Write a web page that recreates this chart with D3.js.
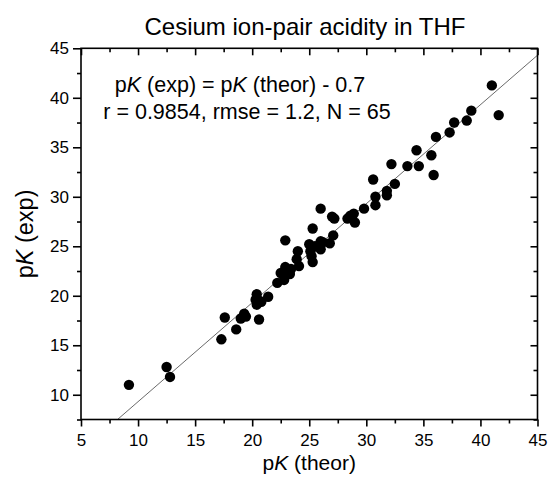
<!DOCTYPE html>
<html>
<head>
<meta charset="utf-8">
<script src="https://cdn.jsdelivr.net/npm/d3@7"></script>
<style>
  body { margin: 0; background: #fff; }
  text { font-family: Arial, "Liberation Sans", sans-serif; fill: #000; }
</style>
</head>
<body>
<svg id="chart" width="549" height="480"></svg>
<script>
// data
const pkTheor = [9.2, 12.5, 12.8, 17.3, 17.6, 18.6, 19.0, 19.3, 19.45, 20.3, 20.4, 20.4, 20.6, 20.8, 21.4,
    22.2, 22.5, 22.8, 22.9, 22.9, 23.3, 23.4, 23.9, 24.0, 24.1, 25.0, 25.1, 25.2, 25.3, 25.3,
    26.0, 26.0, 26.0, 26.8, 27.0, 27.2, 27.1, 28.35, 28.6, 28.9, 29.0, 29.8, 30.6, 30.8, 30.8,
    31.8, 31.8, 32.2, 32.5, 33.6, 34.4, 34.6, 35.7, 35.9, 36.1, 37.3, 37.7, 38.8, 39.2, 41.0, 41.6,
    25.5, 26.2, 23.1, 20.6]
const pkExp = [11.0, 12.8, 11.8, 15.6, 17.8, 16.6, 17.7, 18.2, 17.9, 19.6, 20.15, 19.1, 17.6, 19.4, 19.9,
    21.3, 22.3, 21.6, 25.6, 22.9, 22.2, 22.7, 23.7, 24.5, 23.0, 25.2, 24.5, 24.0, 26.8, 23.4,
    25.5, 24.7, 28.8, 25.3, 28.0, 27.8, 26.1, 27.8, 28.1, 28.3, 27.4, 28.8, 31.75, 30.0, 29.15,
    30.6, 30.15, 33.3, 31.3, 33.1, 34.7, 33.1, 34.2, 32.2, 36.05, 36.5, 37.5, 37.7, 38.7, 41.25, 38.25,
    25.0, 25.4, 22.5, 19.5]
const xTicks = [5, 10, 15, 20, 25, 30, 35, 40, 45]
const yTicks = [10, 15, 20, 25, 30, 35, 40, 45]
const xMinor = [7.5, 12.5, 17.5, 22.5, 27.5, 32.5, 37.5, 42.5]
const yMinor = [7.5, 12.5, 17.5, 22.5, 27.5, 32.5, 37.5, 42.5]
const fitOffset = -0.7

const svg = d3.select("#chart")
const plotLeft = 81, plotRight = 537.5, plotTop = 48.3, plotBottom = 419.5

const x = d3.scaleLinear().domain([5, 45]).range([plotLeft, plotRight])
const y = d3.scaleLinear().domain([7.5, 45]).range([plotBottom, plotTop])

svg.append("defs").append("clipPath").attr("id", "plot-clip")
    .append("rect")
    .attr("x", plotLeft).attr("y", plotTop)
    .attr("width", plotRight - plotLeft).attr("height", plotBottom - plotTop)

// fit line pK(exp) = pK(theor) - 0.7
const fitLine = d3.line().x(d => x(d[0])).y(d => y(d[1]))
svg.append("path")
    .attr("clip-path", "url(#plot-clip)")
    .attr("d", fitLine([[5, 5 + fitOffset], [45, 45 + fitOffset]]))
    .attr("fill", "none")
    .attr("stroke", "#444")
    .attr("stroke-width", 0.8)

// points
svg.append("g")
    .selectAll("circle")
    .data(pkTheor)
    .enter().append("circle")
    .attr("cx", d => x(d))
    .attr("cy", (d, i) => y(pkExp[i]))
    .attr("r", 5.2)
    .attr("fill", "#000")

// axes: bottom/left outward, top/right inward
function styleAxis(g) {
    g.select(".domain").remove()
    g.selectAll("line").attr("stroke", "#000").attr("stroke-width", 1.6)
    g.selectAll("text").attr("font-size", "17px")
}

svg.append("g").attr("transform", `translate(0,${plotBottom})`)
    .call(d3.axisBottom(x).tickValues(xTicks).tickSize(7).tickPadding(7.5))
    .call(styleAxis)
svg.append("g").attr("transform", `translate(0,${plotBottom})`)
    .call(d3.axisBottom(x).tickValues(xMinor).tickSize(4).tickFormat(""))
    .call(styleAxis)

svg.append("g").attr("transform", `translate(${plotLeft},0)`)
    .call(d3.axisLeft(y).tickValues(yTicks).tickSize(8).tickPadding(4))
    .call(styleAxis)
svg.append("g").attr("transform", `translate(${plotLeft},0)`)
    .call(d3.axisLeft(y).tickValues(yMinor).tickSize(4).tickFormat(""))
    .call(styleAxis)

svg.append("g").attr("transform", `translate(0,${plotTop})`)
    .call(d3.axisTop(x).tickValues(xTicks).tickSize(-7).tickFormat(""))
    .call(styleAxis)
svg.append("g").attr("transform", `translate(0,${plotTop})`)
    .call(d3.axisTop(x).tickValues(xMinor).tickSize(-4).tickFormat(""))
    .call(styleAxis)

svg.append("g").attr("transform", `translate(${plotRight},0)`)
    .call(d3.axisRight(y).tickValues(yTicks).tickSize(-7).tickFormat(""))
    .call(styleAxis)
svg.append("g").attr("transform", `translate(${plotRight},0)`)
    .call(d3.axisRight(y).tickValues(yMinor).tickSize(-4).tickFormat(""))
    .call(styleAxis)

// frame
svg.append("rect")
    .attr("x", plotLeft).attr("y", plotTop)
    .attr("width", plotRight - plotLeft).attr("height", plotBottom - plotTop)
    .attr("fill", "none")
    .attr("stroke", "#000")
    .attr("stroke-width", 1.6)

// title and axis labels
svg.append("text")
    .attr("x", 305).attr("y", 35)
    .attr("text-anchor", "middle")
    .attr("font-size", "24px")
    .text("Cesium ion-pair acidity in THF")

const xLabel = svg.append("text")
    .attr("x", (plotLeft + plotRight) / 2).attr("y", 470)
    .attr("text-anchor", "middle")
    .attr("font-size", "21px")
xLabel.append("tspan").text("p")
xLabel.append("tspan").attr("font-style", "italic").text("K")
xLabel.append("tspan").text(" (theor)")

const yLabel = svg.append("text")
    .attr("transform", `translate(33,${(plotTop + plotBottom) / 2}) rotate(-90)`)
    .attr("text-anchor", "middle")
    .attr("font-size", "23.5px")
yLabel.append("tspan").text("p")
yLabel.append("tspan").attr("font-style", "italic").text("K")
yLabel.append("tspan").text(" (exp)")

// annotation
const note1 = svg.append("text")
    .attr("x", 240).attr("y", 92)
    .attr("text-anchor", "middle")
    .attr("font-size", "21.5px")
note1.append("tspan").text("p")
note1.append("tspan").attr("font-style", "italic").text("K")
note1.append("tspan").text(" (exp) = p")
note1.append("tspan").attr("font-style", "italic").text("K")
note1.append("tspan").text(" (theor) - 0.7")

svg.append("text")
    .attr("x", 247).attr("y", 118.5)
    .attr("text-anchor", "middle")
    .attr("font-size", "21.5px")
    .text("r = 0.9854, rmse = 1.2, N = 65")
</script>
</body>
</html>
